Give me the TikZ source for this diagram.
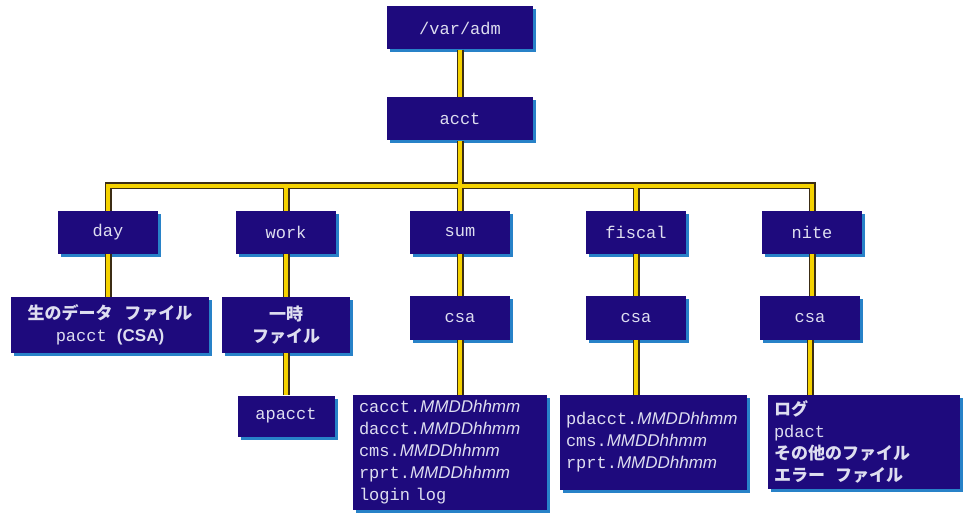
\documentclass[tikz,border=0pt]{standalone}
\usepackage{fontspec}
\setmonofont{Liberation Mono}
\setsansfont{Liberation Sans}
\newfontfamily\jpfont{Noto Sans CJK JP}
\usetikzlibrary{shadows}
\definecolor{boxfill}{RGB}{30,10,125}
\definecolor{boxshadow}{RGB}{40,130,200}
\definecolor{boxtext}{RGB}{222,222,240}
\definecolor{wireedge}{RGB}{60,45,20}
\definecolor{wirecore}{RGB}{245,210,0}
\newcommand\mmdd{{\sffamily\itshape MMDDhhmm}}
\newcommand\jptext[1]{{\jpfont\bfseries\fontsize{17}{22}\selectfont #1}}
\begin{document}
\begin{tikzpicture}[x=1pt,y=-1pt,
  dirbox/.style={fill=boxfill, draw=none, text=boxtext, inner sep=0pt,
    drop shadow={shadow xshift=3pt, shadow yshift=-3pt, fill=boxshadow, opacity=1},
    font=\ttfamily\fontsize{17}{22}\selectfont},
  listbox/.style={dirbox, align=left, inner xsep=6pt},
  wireout/.style={draw=wireedge, line width=7pt},
  wirein/.style={draw=wirecore, line width=3.6pt}]
\useasboundingbox (0,0) rectangle (968,518);

% level 0/1
\node[dirbox, minimum width=146, minimum height=43] (varadm) at (460,28) {/var/adm};
\node[dirbox, minimum width=146, minimum height=43] (acct) at (460,119) {acct};
\coordinate (bar) at (460,186);

% level 2
\node[dirbox, minimum width=100, minimum height=43] (day) at (108,232.5) {day};
\node[dirbox, minimum width=100, minimum height=43] (work) at (286,232.5) {work};
\node[dirbox, minimum width=100, minimum height=43] (sum) at (460,232.5) {sum};
\node[dirbox, minimum width=100, minimum height=43] (fiscal) at (636,232.5) {fiscal};
\node[dirbox, minimum width=100, minimum height=43] (nite) at (812,232.5) {nite};

% level 3
\node[dirbox, align=center, minimum width=198, minimum height=56] (dayfile) at (110,325)
  {\jptext{生のデータ\hspace{0.7em}ファイル}\\pacct {\sffamily\bfseries (CSA)}};
\node[dirbox, align=center, minimum width=128, minimum height=56] (workfile) at (286,325)
  {\jptext{一時}\\\jptext{ファイル}};
\node[dirbox, minimum width=100, minimum height=44] (sumcsa) at (460,318) {csa};
\node[dirbox, minimum width=100, minimum height=44] (fiscsa) at (636,318) {csa};
\node[dirbox, minimum width=100, minimum height=44] (nitecsa) at (810,318) {csa};

% level 4
\node[dirbox, minimum width=97, minimum height=41] (apacct) at (286,416) {apacct};
\node[listbox, text width=182, minimum height=115] (sumlist) at (450,452.5)
  {cacct.\mmdd\\dacct.\mmdd\\cms.\mmdd\\rprt.\mmdd\\login log};
\node[listbox, text width=175, minimum height=95] (fislist) at (653.5,442.5)
  {pdacct.\mmdd\\cms.\mmdd\\rprt.\mmdd};
\node[listbox, text width=180, minimum height=94] (nitelist) at (864,442)
  {\jptext{ログ}\\pdact\\\jptext{その他のファイル}\\\jptext{エラー\hspace{0.6em}ファイル}};

% connectors: outline first, then yellow core
\foreach \w in {wireout, wirein} {
  \draw[\w] (varadm.south) -- (acct.north);
  \draw[\w] (acct.south) -- (bar);
  \draw[\w] (day.north) |- (bar) -| (nite.north);
  \draw[\w] (work.north) -- (work.north |- bar);
  \draw[\w] (sum.north) -- (sum.north |- bar);
  \draw[\w] (fiscal.north) -- (fiscal.north |- bar);
  \draw[\w] (day.south) -- (day.south |- dayfile.north);
  \draw[\w] (work.south) -- (workfile.north);
  \draw[\w] (workfile.south) -- (apacct.north);
  \draw[\w] (sum.south) -- (sumcsa.north);
  \draw[\w] (sumcsa.south) -- (sumcsa.south |- sumlist.north);
  \draw[\w] (fiscal.south) -- (fiscsa.north);
  \draw[\w] (fiscsa.south) -- (fiscsa.south |- fislist.north);
  \draw[\w] (nite.south) -- (nite.south |- nitecsa.north);
  \draw[\w] (nitecsa.south) -- (nitecsa.south |- nitelist.north);
}
\end{tikzpicture}
\end{document}
